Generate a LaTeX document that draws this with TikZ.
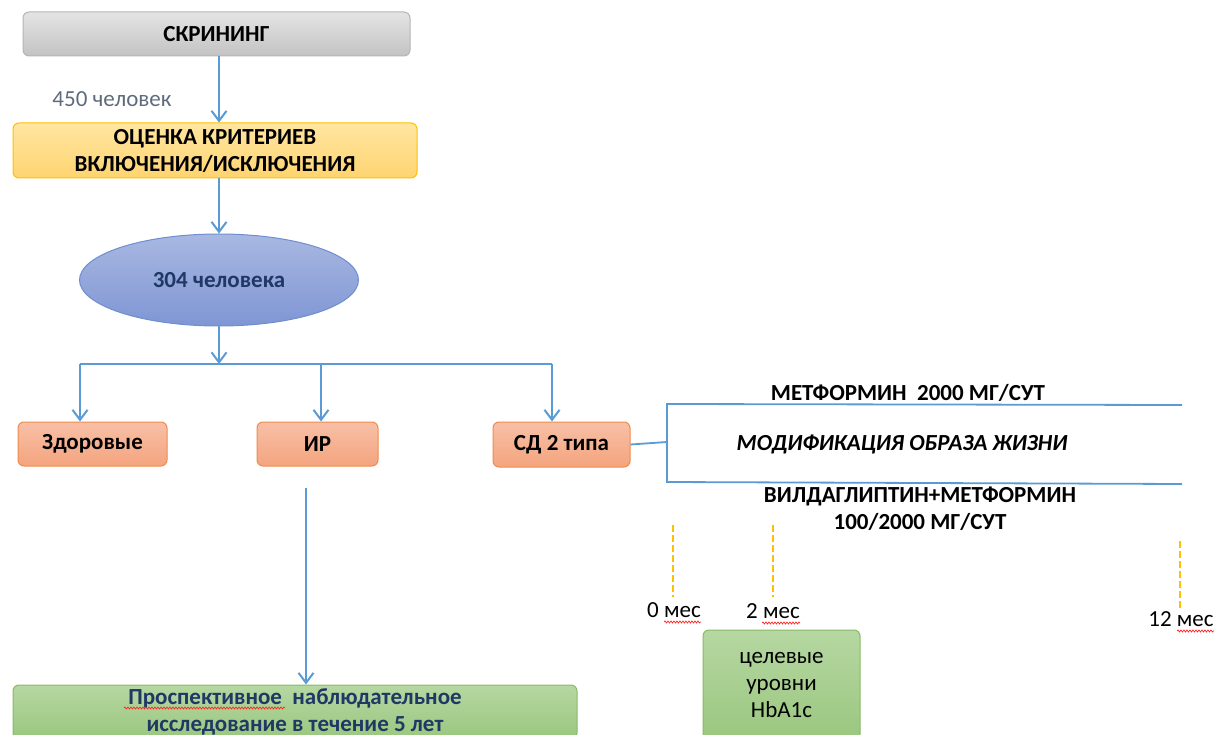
\documentclass[tikz,border=0pt]{standalone}
\usepackage{fontspec}
\setmainfont{Carlito}
\usetikzlibrary{arrows.meta,shapes.geometric,decorations.pathmorphing}
\definecolor{lineblue}{HTML}{5B9BD5}
\definecolor{navy}{HTML}{1F3864}
\definecolor{labgray}{HTML}{5F6B7C}
\definecolor{dashor}{HTML}{FFC000}
\definecolor{grayT}{HTML}{E4E4E4}\definecolor{grayB}{HTML}{C3C3C3}\definecolor{grayD}{HTML}{B5B5B5}
\definecolor{yelT}{HTML}{FFE6A2}\definecolor{yelB}{HTML}{FFD470}
\definecolor{orT}{HTML}{F8C0A6}\definecolor{orB}{HTML}{F4A47E}\definecolor{orD}{HTML}{EE8C4E}
\definecolor{grT}{HTML}{B6D7A2}\definecolor{grB}{HTML}{9AC77F}\definecolor{grD}{HTML}{86BB66}
\definecolor{blT}{HTML}{A9B8E2}\definecolor{blB}{HTML}{7F96D4}\definecolor{blD}{HTML}{6E8ED0}
\begin{document}
\begin{tikzpicture}[x=1pt,y=-1pt,
  fnt/.style={font=\fontsize{23}{27}\selectfont},
  bfnt/.style={font=\bfseries\fontsize{23}{27}\selectfont},
  box/.style={rectangle, rounded corners=6pt, line width=1pt, align=center, bfnt, inner sep=0pt},
  graybox/.style={box, draw=grayD, top color=grayT, bottom color=grayB},
  yelbox/.style={box, draw=dashor, top color=yelT, bottom color=yelB},
  orbox/.style={box, draw=orD, top color=orT, bottom color=orB},
  grbox/.style={box, draw=grD, top color=grT, bottom color=grB},
  conn/.style={draw=lineblue, line width=2.2pt, -{Straight Barb[length=10pt,width=15pt,line width=2pt]}},
  plain/.style={draw=lineblue, line width=2.2pt},
  tick/.style={draw=dashor, line width=2pt, dash pattern=on 7pt off 3pt},
  lab/.style={bfnt, align=center, inner sep=0pt},
  spell/.style={draw=red!85, line width=0.7pt, decorate, decoration={snake, amplitude=1pt, segment length=3pt}}
]
\useasboundingbox (0,0) rectangle (1216,735);
\clip (0,0) rectangle (1216,735);

% nodes
\node[graybox, minimum width=387pt, minimum height=44pt] (scr) at (216.5,34) {СКРИНИНГ};
\node[yelbox, minimum width=404pt, minimum height=55pt] (ocen) at (215,150.5) {ОЦЕНКА КРИТЕРИЕВ\\ВКЛЮЧЕНИЯ/ИСКЛЮЧЕНИЯ};
\node[ellipse, draw=blD, line width=1pt, top color=blT, bottom color=blB,
  minimum width=279pt, minimum height=92pt, inner sep=0pt, bfnt, text=navy] (ell) at (219,280) {304 человека};
\node[orbox, minimum width=149pt, minimum height=44pt] (zd) at (92.5,444) {Здоровые};
\node[orbox, minimum width=121pt, minimum height=44pt] (ir) at (317.5,444) {ИР};
\node[orbox, minimum width=137pt, minimum height=45pt] (sd) at (561.5,444.5) {СД 2 типа};
\node[grbox, minimum width=157pt, minimum height=110pt, fnt] (tgt) at (781.5,685) {целевые\\уровни\\HbA1c};
\node[grbox, minimum width=564pt, minimum height=54pt, text=navy] (pr) at (295,712) {Проспективное\ \ наблюдательное\\исследование в течение 5 лет};

\node[fnt, text=labgray, inner sep=0pt] (n450) at (112,99) {450 человек};

% connectors
\draw[conn] (scr.south -| 219,0) -- (ocen.north -| 219,0);
\draw[conn] (ocen.south -| 219,0) -- (ell.north);
\coordinate (bus) at (219,364);
\draw[conn] (ell.south) -- (bus);
\coordinate (busL) at (80,364);
\coordinate (busR) at (552,364);
\draw[plain] (busL) -- (busR);
\draw[conn] (busL) -- (zd.north -| busL);
\draw[conn] (321,364) -- (ir.north -| 321,0);
\draw[conn] (busR) -- (sd.north -| busR);
\coordinate (irout) at (306,488);
\draw[conn] (irout) -- (pr.north -| irout);

% bracket
\coordinate (bt) at (667,404);
\coordinate (bb) at (667,482);
\coordinate (bte) at (1182,405);
\coordinate (bbe) at (1182,484);
\draw[plain, line width=1.8pt] (sd.east) -- (667,442);
\draw[plain, line width=1.8pt] (bte) -- (bt) -- (bb) -- (bbe);

\node[lab] (met) at (908,393) {МЕТФОРМИН\ \ 2000 МГ/СУТ};
\node[lab, font=\bfseries\itshape\fontsize{23}{27}\selectfont] (mod) at (902,444) {МОДИФИКАЦИЯ ОБРАЗА ЖИЗНИ};
\node[lab] (vil) at (920,508.5) {ВИЛДАГЛИПТИН+МЕТФОРМИН\\100/2000 МГ/СУТ};

% timeline
\coordinate (t0a) at (673,525); \coordinate (t0b) at (673,597);
\coordinate (t2a) at (773,525); \coordinate (t2b) at (773,597);
\coordinate (t12a) at (1180,541); \coordinate (t12b) at (1180,610);
\draw[tick] (t0a) -- (t0b);
\draw[tick] (t2a) -- (t2b);
\draw[tick] (t12a) -- (t12b);
\node[fnt, inner sep=0pt] (m0) at (674,610) {0 мес};
\node[fnt, inner sep=0pt] (m2) at (773,611) {2 мес};
\node[fnt, inner sep=0pt] (m12) at (1181,619) {12 мес};

% spell-check underlines
\draw[spell] (664,622) -- (701,622);
\draw[spell] (762,623) -- (800,623);
\draw[spell] (1177,631) -- (1214,631);
\draw[spell] (124,708) -- (285,708);
\end{tikzpicture}
\end{document}
